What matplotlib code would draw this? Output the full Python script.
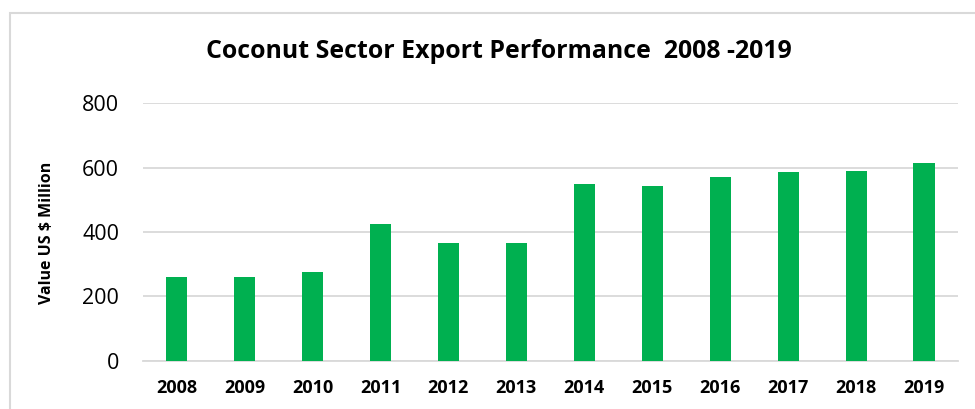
import matplotlib
matplotlib.use("Agg")
import matplotlib.pyplot as plt
from matplotlib.patches import Rectangle

years = ["2008", "2009", "2010", "2011", "2012", "2013", "2014", "2015", "2016", "2017", "2018", "2019"]
values = [261, 260, 277, 424, 365, 367, 549, 542, 571, 587, 590, 614]
yticks = [0, 200, 400, 600, 800]

plt.rcParams['font.family'] = ['Open Sans', 'DejaVu Sans']

fig = plt.figure(figsize=(9.75, 4.09), dpi=100)
ax = fig.add_axes([142.7/975, 1-360.7/409, (958-142.7)/975, (360.7-103.3)/409])

x = list(range(len(years)))
ax.bar(x, values, width=0.31, color="#00B050", zorder=3)
ax.set_xlim(-0.5, len(years)-0.5)
ax.set_ylim(0, 800)
ax.set_yticks(yticks)
ax.set_yticklabels([str(v) for v in yticks], fontsize=15.5)
ax.set_xticks(x)
ax.set_xticklabels(years, fontsize=13, fontweight="bold")
ax.tick_params(axis="both", length=0)
ax.tick_params(axis="y", pad=17)
ax.tick_params(axis="x", pad=13)
ax.grid(axis="y", color="#D9D9D9", linewidth=1.3, zorder=0)
for s in ["top", "right", "left"]:
    ax.spines[s].set_visible(False)
ax.spines["bottom"].set_color("#D9D9D9")
ax.spines["bottom"].set_linewidth(1.3)

fig.text(47/975, 1-233/409, "Value US $ Million", rotation=90, fontsize=11.5,
         fontweight="bold", ha="center", va="center")
fig.text(499/975, 1-52/409, "Coconut Sector Export Performance  2008 -2019",
         fontsize=17.9, fontweight="bold", ha="center", va="center")

fig.patches.append(Rectangle((10/975, -0.05), 1.0, 1-13/409+0.05, transform=fig.transFigure,
                             fill=False, edgecolor="#D9D9D9", linewidth=1.5))

fig.savefig("out.png", dpi=100)
